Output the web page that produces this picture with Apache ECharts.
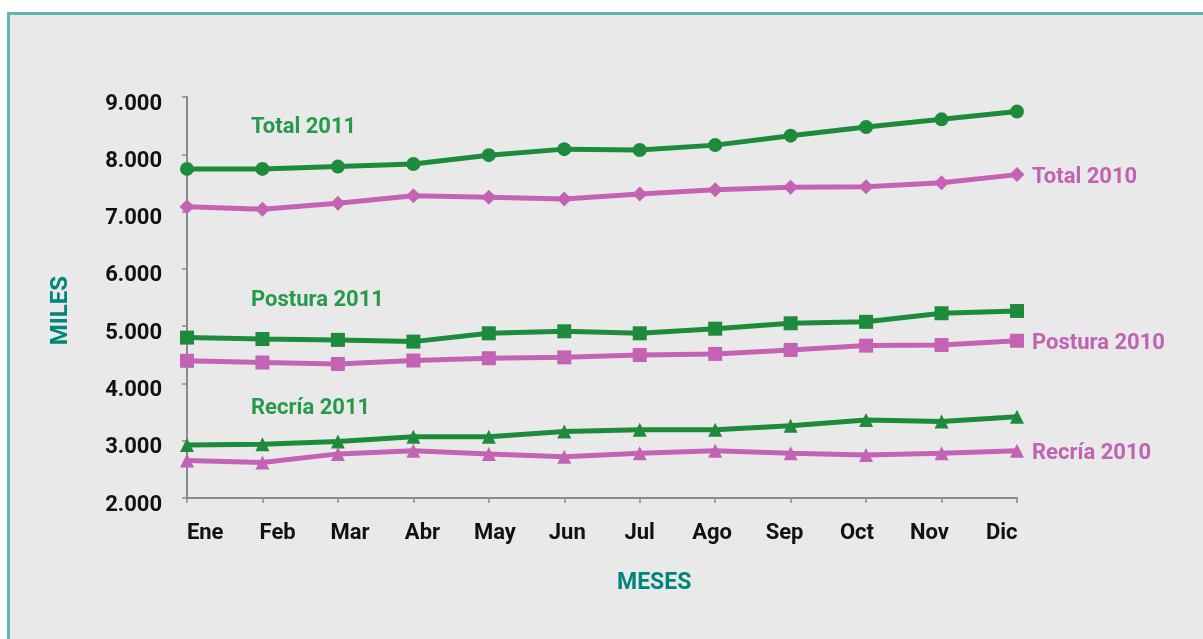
<!DOCTYPE html>
<html>
<head>
<meta charset="utf-8">
<script src="https://cdn.jsdelivr.net/npm/echarts@6/dist/echarts.min.js"></script>
<style>
  html, body { margin: 0; padding: 0; background: #ffffff; }
  #frame { position: absolute; left: 7px; top: 12px; width: 1300px; height: 700px;
           background: #e9e9e9; border-left: 3px solid #5fb5b0; border-top: 3px solid #5fb5b0; }
  #chart { position: absolute; left: 0; top: 0; width: 1203px; height: 639px; }
</style>
</head>
<body>
<div id="frame"></div>
<div id="chart"></div>
<script>
const months = ['Ene','Feb','Mar','Abr','May','Jun','Jul','Ago','Sep','Oct','Nov','Dic'];
const yTicks = [2000, 3000, 4000, 5000, 6000, 7000, 8000, 9000];
const total2011   = [7745, 7745, 7785, 7830, 7985, 8090, 8075, 8160, 8325, 8475, 8610, 8745];
const total2010   = [7085, 7040, 7145, 7275, 7250, 7220, 7305, 7380, 7425, 7435, 7505, 7645];
const postura2011 = [4800, 4775, 4760, 4730, 4875, 4910, 4875, 4955, 5050, 5075, 5225, 5265];
const postura2010 = [4395, 4365, 4340, 4400, 4440, 4455, 4495, 4515, 4585, 4660, 4670, 4745];
const recria2011  = [2925, 2940, 2985, 3070, 3070, 3160, 3190, 3190, 3260, 3360, 3335, 3420];
const recria2010  = [2655, 2620, 2770, 2825, 2770, 2720, 2780, 2825, 2780, 2750, 2780, 2825];

const GREEN = '#1e8b3c', GREEN_TXT = '#27994a', PINK = '#c463b4', PINK_TXT = '#c262b2', TEAL = '#00857a';
const FONT = 'Roboto, "DejaVu Sans", sans-serif';

function line(name, data, color, symbol, size, endLabel) {
  return {
    name, type: 'line', data, symbol, symbolSize: size,
    xAxisIndex: 0, yAxisIndex: 0,
    lineStyle: { color, width: 5 },
    itemStyle: { color },
    animation: false,
    endLabel: endLabel ? {
      show: true, formatter: name, color: PINK_TXT, fontSize: 22, fontWeight: 'bold',
      fontFamily: FONT, distance: 15, offset: [0, 3]
    } : { show: false }
  };
}

const chart = echarts.init(document.getElementById('chart'), null, { renderer: 'canvas' });
chart.setOption({
  backgroundColor: 'transparent',
  grid: [
    { left: 187, right: 186, top: 97, bottom: 141 },
    { left: 169, right: 165, top: 97, bottom: 141 }
  ],
  xAxis: [
    { type: 'category', data: months, gridIndex: 0, boundaryGap: false,
      axisLine: { lineStyle: { color: '#8a8a8a', width: 2 } },
      axisTick: { show: true, alignWithLabel: true, length: 5, lineStyle: { color: '#8a8a8a', width: 1.5 } },
      axisLabel: { show: false }, splitLine: { show: false } },
    { type: 'category', data: months, gridIndex: 1, boundaryGap: true,
      axisLine: { show: false }, axisTick: { show: false }, splitLine: { show: false },
      axisLabel: { show: true, margin: 24, color: '#111', fontSize: 22, fontWeight: 'bold', fontFamily: FONT, interval: 0 } }
  ],
  yAxis: [
    { type: 'value', gridIndex: 0, min: yTicks[0], max: yTicks[yTicks.length - 1], interval: 1000,
      axisLine: { show: true, lineStyle: { color: '#8a8a8a', width: 2 } },
      axisTick: { show: true, length: 5, lineStyle: { color: '#8a8a8a', width: 1.5 } },
      splitLine: { show: false },
      axisLabel: { margin: 25, color: '#111', fontSize: 22, fontWeight: 'bold', fontFamily: FONT,
        verticalAlign: 'top', padding: [-4, 0, 0, 0],
        formatter: v => (v / 1000).toFixed(3) } },
    { type: 'value', gridIndex: 1, min: 2000, max: 9000, show: false }
  ],
  series: [
    line('Total 2011', total2011, GREEN, 'circle', 14, false),
    line('Total 2010', total2010, PINK, 'diamond', 15, true),
    line('Postura 2011', postura2011, GREEN, 'rect', 14, false),
    line('Postura 2010', postura2010, PINK, 'rect', 14, true),
    line('Recría 2011', recria2011, GREEN, 'triangle', 14, false),
    line('Recría 2010', recria2010, PINK, 'triangle', 14, true),
    { type: 'line', xAxisIndex: 1, yAxisIndex: 1, data: [], silent: true }
  ],
  graphic: [
    { type: 'text', left: 251, top: 116, style: { text: 'Total 2011', fill: GREEN_TXT, font: 'bold 22px ' + FONT } },
    { type: 'text', left: 251, top: 289, style: { text: 'Postura 2011', fill: GREEN_TXT, font: 'bold 22px ' + FONT } },
    { type: 'text', left: 251, top: 397, style: { text: 'Recría 2011', fill: GREEN_TXT, font: 'bold 22px ' + FONT } },
    { type: 'text', left: 617, top: 572, style: { text: 'MESES', fill: TEAL, font: 'bold 23px ' + FONT } },
    { type: 'text', left: 49, top: 276, rotation: Math.PI / 2, style: { text: 'MILES', fill: TEAL, font: 'bold 24px ' + FONT } }
  ]
});
</script>
</body>
</html>
